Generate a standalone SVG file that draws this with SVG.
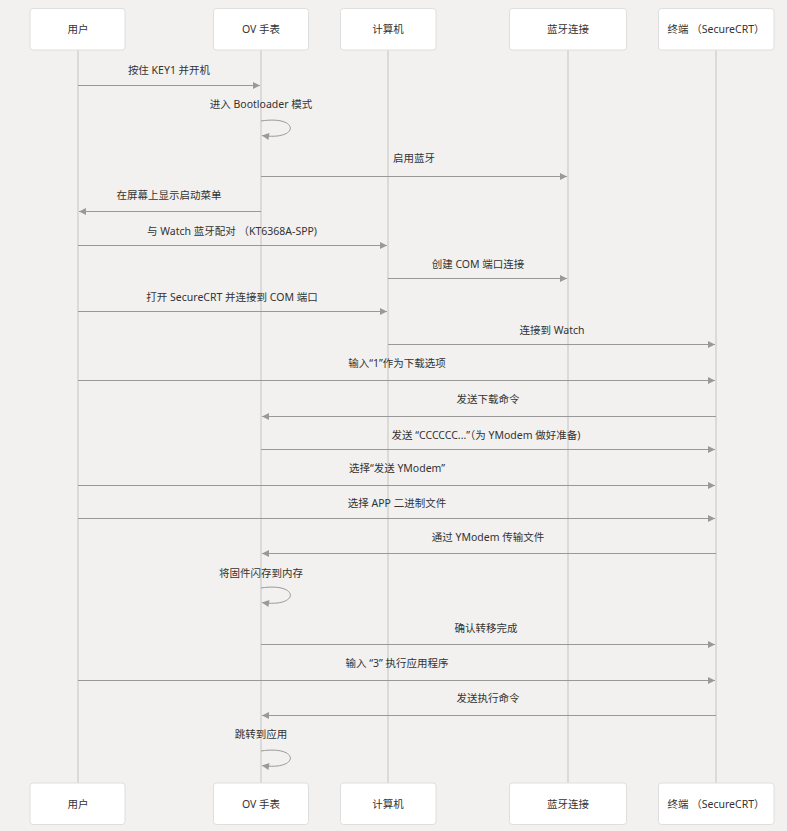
<svg xmlns="http://www.w3.org/2000/svg" width="787" height="831" viewBox="0 0 787 831">
<style>
.bg{fill:#f2f1ef}
.box{fill:#ffffff;stroke:#dedede;stroke-width:1}
.life{stroke:#d2d2d2;stroke-width:1.5;fill:none}
.msg{stroke:#999999;stroke-width:1;fill:none}
.t{font-family:"Noto Sans","Noto Sans CJK SC",sans-serif;font-size:10.5px;fill:#333333;text-anchor:middle}
</style>
<defs>
<marker id="ah" viewBox="0 0 10 10" refX="10" refY="5" markerWidth="9" markerHeight="7" orient="auto" markerUnits="userSpaceOnUse">
<path d="M0,0 L10,5 L0,10 z" fill="#999999"/>
</marker>
</defs>
<rect class="bg" x="0" y="0" width="787" height="831"/>
<g id="lifelines">
<line class="life" x1="78" y1="50" x2="78" y2="783"/>
<line class="life" x1="261" y1="50" x2="261" y2="783"/>
<line class="life" x1="388" y1="50" x2="388" y2="783"/>
<line class="life" x1="568" y1="50" x2="568" y2="783"/>
<line class="life" x1="716" y1="50" x2="716" y2="783"/>
</g>
<g id="user">
<rect class="box" x="30" y="8.5" width="95" height="41.5" rx="3"/>
<text class="t" x="78" y="33">用户</text>
<rect class="box" x="30" y="783" width="95" height="41.5" rx="3"/>
<text class="t" x="78" y="808">用户</text>
</g>
<g id="watch">
<rect class="box" x="213.5" y="8.5" width="95" height="41.5" rx="3"/>
<text class="t" x="261" y="33">OV 手表</text>
<rect class="box" x="213.5" y="783" width="95" height="41.5" rx="3"/>
<text class="t" x="261" y="808">OV 手表</text>
</g>
<g id="computer">
<rect class="box" x="340.5" y="8.5" width="95.5" height="41.5" rx="3"/>
<text class="t" x="388" y="33">计算机</text>
<rect class="box" x="340.5" y="783" width="95.5" height="41.5" rx="3"/>
<text class="t" x="388" y="808">计算机</text>
</g>
<g id="bluetooth">
<rect class="box" x="509.5" y="8.5" width="117" height="41.5" rx="3"/>
<text class="t" x="568" y="33">蓝牙连接</text>
<rect class="box" x="509.5" y="783" width="117" height="41.5" rx="3"/>
<text class="t" x="568" y="808">蓝牙连接</text>
</g>
<g id="terminal">
<rect class="box" x="658.5" y="8.5" width="115.5" height="41.5" rx="3"/>
<text class="t" x="716" y="33">终端 （SecureCRT）</text>
<rect class="box" x="658.5" y="783" width="115.5" height="41.5" rx="3"/>
<text class="t" x="716" y="808">终端 （SecureCRT）</text>
</g>
<g id="connectors">
<line class="msg" x1="78" y1="85.5" x2="260" y2="85.5" marker-end="url(#ah)"/>
<path class="msg" d="M261,121 C300,115 300,141 262,135.5" marker-end="url(#ah)"/>
<line class="msg" x1="261" y1="176.5" x2="567" y2="176.5" marker-end="url(#ah)"/>
<line class="msg" x1="261" y1="211.5" x2="79" y2="211.5" marker-end="url(#ah)"/>
<line class="msg" x1="78" y1="245.5" x2="387" y2="245.5" marker-end="url(#ah)"/>
<line class="msg" x1="388" y1="278.5" x2="567" y2="278.5" marker-end="url(#ah)"/>
<line class="msg" x1="78" y1="311.5" x2="387" y2="311.5" marker-end="url(#ah)"/>
<line class="msg" x1="388" y1="344.5" x2="715" y2="344.5" marker-end="url(#ah)"/>
<line class="msg" x1="78" y1="380.5" x2="715" y2="380.5" marker-end="url(#ah)"/>
<line class="msg" x1="716" y1="416.5" x2="262" y2="416.5" marker-end="url(#ah)"/>
<line class="msg" x1="261" y1="449.5" x2="715" y2="449.5" marker-end="url(#ah)"/>
<line class="msg" x1="78" y1="485.5" x2="715" y2="485.5" marker-end="url(#ah)"/>
<line class="msg" x1="78" y1="518.5" x2="715" y2="518.5" marker-end="url(#ah)"/>
<line class="msg" x1="716" y1="553.5" x2="262" y2="553.5" marker-end="url(#ah)"/>
<path class="msg" d="M261,588 C300,582 300,608 262,602.5" marker-end="url(#ah)"/>
<line class="msg" x1="261" y1="644.5" x2="715" y2="644.5" marker-end="url(#ah)"/>
<line class="msg" x1="78" y1="680.5" x2="715" y2="680.5" marker-end="url(#ah)"/>
<line class="msg" x1="716" y1="715.5" x2="262" y2="715.5" marker-end="url(#ah)"/>
<path class="msg" d="M261,751 C300,745 300,771 262,765.5" marker-end="url(#ah)"/>
</g>
<g id="labels">
<text class="t" x="169" y="74">按住 KEY1 并开机</text>
<text class="t" x="261" y="108">进入 Bootloader 模式</text>
<text class="t" x="414" y="162">启用蓝牙</text>
<text class="t" x="169" y="199">在屏幕上显示启动菜单</text>
<text class="t" x="232" y="235">与 Watch 蓝牙配对 （KT6368A-SPP)</text>
<text class="t" x="478" y="268">创建 COM 端口连接</text>
<text class="t" x="232" y="301">打开 SecureCRT 并连接到 COM 端口</text>
<text class="t" x="552" y="334">连接到 Watch</text>
<text class="t" x="397" y="367">输入“1”作为下载选项</text>
<text class="t" x="488" y="403">发送下载命令</text>
<text class="t" x="486" y="439">发送 “CCCCCC...”（为 YModem 做好准备)</text>
<text class="t" x="397" y="472">选择“发送 YModem”</text>
<text class="t" x="397" y="507">选择 APP 二进制文件</text>
<text class="t" x="488" y="541">通过 YModem 传输文件</text>
<text class="t" x="261" y="577">将固件闪存到内存</text>
<text class="t" x="486" y="632">确认转移完成</text>
<text class="t" x="397" y="667">输入 “3” 执行应用程序</text>
<text class="t" x="488" y="702">发送执行命令</text>
<text class="t" x="261" y="738">跳转到应用</text>
</g>
</svg>
